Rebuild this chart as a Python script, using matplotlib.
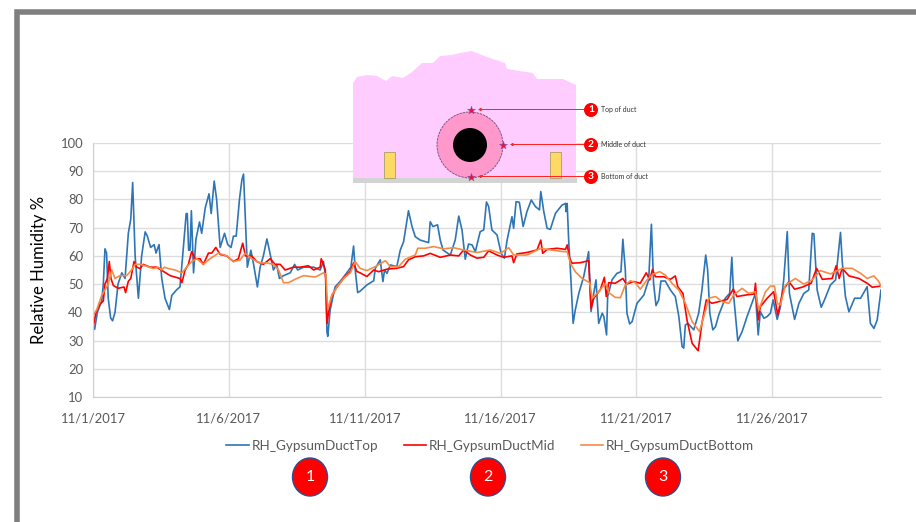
import matplotlib
matplotlib.use("Agg")
import matplotlib.pyplot as plt
from matplotlib.patches import Polygon, Rectangle, Circle, Ellipse

top_days = [0.01,0.06,0.16,0.32,0.38,0.44,0.50,0.56,0.65,0.72,0.81,0.92,1.06,1.18,1.30,1.39,1.46,1.55,1.67,1.79,1.92,2.0,2.12,2.25,2.32,2.43,2.53,2.65,2.81,2.90,3.08,3.20,3.30,3.43,3.47,3.52,3.57,3.62,3.70,3.79,3.92,4.0,4.13,4.27,4.35,4.46,4.55,4.68,4.84,4.96,5.08,5.17,5.27,5.39,5.48,5.54,5.62,5.68,5.81,5.91,6.05,6.15,6.27,6.40,6.49,6.64,6.76,6.86,7.01,7.26,7.42,7.53,7.75,8.12,8.36,8.48,8.57,8.61,8.64,8.73,8.91,9.10,9.34,9.49,9.59,9.65,9.74,9.83,10.08,10.33,10.39,10.57,10.67,10.73,10.82,10.94,11.18,11.31,11.43,11.61,11.74,11.86,12.04,12.35,12.41,12.51,12.68,12.78,12.88,13.15,13.33,13.46,13.58,13.70,13.82,13.95,14.07,14.25,14.38,14.48,14.56,14.68,14.87,15.02,15.14,15.24,15.42,15.48,15.57,15.69,15.83,15.97,16.13,16.28,16.43,16.48,16.59,16.71,16.83,17.02,17.26,17.39,17.41,17.45,17.51,17.57,17.67,17.75,17.88,18.06,18.24,18.33,18.43,18.51,18.61,18.74,18.80,18.90,18.94,19.10,19.28,19.43,19.50,19.59,19.65,19.75,19.84,20.02,20.27,20.45,20.55,20.63,20.72,20.82,20.90,21.06,21.25,21.43,21.56,21.68,21.74,21.80,21.89,22.11,22.29,22.41,22.55,22.62,22.70,22.81,22.91,23.03,23.27,23.43,23.51,23.58,23.73,23.89,24.07,24.38,24.48,24.56,24.69,24.81,24.93,25.03,25.18,25.30,25.42,25.55,25.63,25.82,25.98,26.16,26.34,26.47,26.53,26.65,26.80,26.92,27.14,27.33,27.51,27.57,27.69,27.82,28.03,28.25,28.49,28.61,28.74,28.86,29.0]
top_rh = [35,34,40,44,50,62.5,61,45,38,37,40,50,54,52,68,73,86,60,45,60,68.5,67,63,64,61,64,52,45,41,46,48,49,60,75,75,62,62,76,54,66,72,68,77,82,75,86.5,80,63,68,64,63,67,67,80,87,89,70,56,62,57,49,56,60,66,62,55,57,52,53,54,57,55,56,56,55,58,52,33,31.5,41,49,51,54,56,63.5,55,47,47.5,49.7,51.2,55.6,58.6,50.9,55.0,53.8,56.8,56.2,62.1,65.0,76,70.4,66.8,65.6,64.7,72.1,70.4,71,65.6,62.1,60.3,65.6,74.1,69.2,58.8,64.2,63.9,61.5,68.6,69.2,79.1,77.5,69.2,67.4,60.9,59.2,65.6,73.9,69.8,79.2,79,70.4,75.7,79.8,77.5,76.3,82.8,75.7,69.8,69.4,75.1,78,78.6,75.7,78.6,64.5,55,36.1,40.9,46.8,52.7,61.5,40.3,46.8,51.5,36.1,39.7,38.5,32,45.6,51.5,53.8,54.4,65.9,55,39.7,35.9,36.7,43.2,46.1,51.5,71.2,50.3,42.4,44.4,51.1,51.1,47.9,45.6,38.5,27.9,27.3,35.5,36.1,33.8,39.7,47.9,60.3,55,39.7,33.8,34.9,39.1,45,46.7,59.5,45.6,29.9,33.2,38.5,46.7,32,40.2,37.9,38.5,39.7,44.4,37.5,42,51.5,68.6,46.7,37.5,43.2,46.7,47.9,68,67.8,47.9,41.8,44.4,49.7,51.5,68.3,58.5,45.6,40.2,45,45,49.1,36.1,34.3,37.3,47.9]

mid_days = [0.01,0.11,0.26,0.38,0.44,0.53,0.60,0.66,0.75,0.93,1.14,1.20,1.30,1.39,1.51,1.61,1.73,1.85,2.10,2.34,2.59,2.84,3.20,3.27,3.39,3.51,3.63,3.76,3.94,4.06,4.25,4.37,4.52,4.68,4.92,5.17,5.35,5.51,5.61,5.84,6.03,6.27,6.52,6.70,6.89,7.07,7.38,7.62,7.93,8.12,8.36,8.40,8.55,8.61,8.67,8.79,8.98,9.22,9.47,9.59,9.71,9.83,10.08,10.33,10.51,10.82,11.18,11.43,11.61,11.86,12.17,12.41,12.78,13.15,13.46,13.64,13.89,14.13,14.38,14.56,14.87,15.11,15.42,15.48,15.60,15.97,16.34,16.48,16.55,16.71,17.08,17.39,17.45,17.54,17.63,17.94,18.24,18.33,18.43,18.67,18.82,18.89,18.98,19.22,19.50,19.63,19.90,20.14,20.36,20.49,20.59,20.70,21.0,21.25,21.43,21.52,21.71,21.86,22.05,22.27,22.41,22.57,22.78,23.03,23.34,23.56,23.70,24.07,24.34,24.38,24.48,24.56,24.81,25.05,25.20,25.40,25.61,25.82,26.10,26.43,26.63,26.84,27.20,27.35,27.46,27.57,27.82,28.19,28.49,28.68,29.0]
mid_rh = [35,40,43,44,50,52,58,52,49.5,48.5,49,47,51,52,58,56,55.5,57,56,56,54.5,53,52,50.5,55,57,61.5,59,59,57,61,61,63,60.5,60,58,59,64.5,60,60,58,57,59,57,57,55,56,56,56.5,55,56,59,55,36,40,46,49,52,54.5,57.5,54.5,54,52.7,55,54.4,55.3,55.6,56.2,58.6,59.7,60,60.9,59.5,60.3,60,62.1,60.3,59.2,59.5,61.8,60.3,59.5,60,57.6,60.7,61.2,62.1,65.6,60.9,62.3,62.7,62.3,63.9,59.2,57.4,57.6,58.3,41.4,45,48,52.4,45.6,50.5,50.3,52,50,50.9,50.3,54,51.5,55.2,52.6,52.6,51.7,52.9,49.1,46.7,37.3,29,26.4,36.1,44.4,43.2,43.8,44.6,48.2,45.6,46.2,46.5,50.3,37.3,42,45,47.3,39.1,47.9,50.9,48.2,48.9,50.3,55.6,51.7,52,56.5,52,55.6,52.9,52,50.3,48.9,49.3]

bottom_days = [0.01,0.14,0.32,0.44,0.56,0.69,0.81,0.99,1.24,1.42,1.55,1.73,1.92,2.22,2.41,2.53,2.62,2.77,3.02,3.27,3.45,3.63,3.82,4.06,4.31,4.62,4.92,5.17,5.41,5.60,5.84,6.15,6.40,6.64,6.83,7.01,7.19,7.50,7.75,8.18,8.48,8.57,8.64,8.79,8.98,9.22,9.47,9.65,9.83,10.08,10.39,10.76,10.94,11.25,11.49,11.86,11.95,12.23,12.54,12.90,13.27,13.64,14.13,14.62,15.0,15.30,15.48,15.97,16.48,16.71,17.32,17.45,17.57,17.75,18.0,18.28,18.37,18.61,18.86,18.98,19.22,19.41,19.59,19.78,19.96,20.14,20.39,20.63,20.86,21.06,21.31,21.56,21.80,22.05,22.32,22.48,22.66,22.91,23.15,23.40,23.58,23.89,24.13,24.38,24.50,24.75,24.93,25.08,25.18,25.30,25.48,25.85,26.16,26.47,26.77,27.14,27.57,27.94,28.25,28.49,28.74,28.92,29.0]
bottom_rh = [39,41,46,48,50,55,52,53,53,55,57,57,56.5,55.5,56,55,56,55.5,55,54,56,58,59,57,59,61,60,58,58.5,61,59,57.5,57.5,57,55,50.5,50.5,52,53,52.5,54,53.5,41,46,49,52,54,58,55.6,54.8,56.2,58.3,56.2,56.2,58.8,60.3,62.7,62.7,63.3,62.5,62.9,62.1,61.2,62.1,60.9,62.9,60.3,60.3,62.7,62.3,61.5,61.5,57.4,54.4,52,50.5,45,47.3,50.3,47,45.3,45.2,49.7,51.2,50.5,48.2,51.5,53.6,54.4,53.2,50.3,47.9,43.2,36.7,33.2,38.5,45,45.6,43.8,43.2,46.2,48.5,46.7,47.3,40.8,47.3,49.3,49.3,43.2,42.6,49.7,52,50,51.5,54.8,53.6,55.6,55.6,53.8,52,52.9,50.9,49.1]

tick_days = [0, 5, 10, 15, 20, 25]
tick_labels = ["11/1/2017", "11/6/2017", "11/11/2017", "11/16/2017", "11/21/2017", "11/26/2017"]
y_ticks = [10, 20, 30, 40, 50, 60, 70, 80, 90, 100]
series_names = ["RH_GypsumDuctTop", "RH_GypsumDuctMid", "RH_GypsumDuctBottom"]
series_colors = ["#2E75B6", "#FF0000", "#F58B45"]

insulation_x = [353,357,367,377,386,392,403,412,422,433,440,452,460,472,487,505,507,533,537,563,576,576,353]
insulation_y = [83,77,75,76,81,76,78,72,63,63,56,55,53,51,57,63,69,73,79,79,85,178,178]
star_x = [471, 503, 471]
star_y = [110, 145, 177]
callout_text = ["Top of duct", "Middle of duct", "Bottom of duct"]
badge_text = ["1", "2", "3"]
badge_x = [310, 488, 663]

W, H = 916, 522
plt.rcParams["font.family"] = ["Lato", "DejaVu Sans"]
fig = plt.figure(figsize=(W / 100, H / 100), dpi=100, facecolor="white")

L, R, T, B = 93, 881, 143, 397
ax = fig.add_axes([L / W, 1 - B / H, (R - L) / W, (B - T) / H])
for d, v, n, c in zip([top_days, mid_days, bottom_days], [top_rh, mid_rh, bottom_rh], series_names, series_colors):
    ax.plot(d, v, color=c, lw=1.2, label=n, solid_joinstyle="round")
ax.set_xlim(0, 29)
ax.set_ylim(10, 100)
ax.set_xticks(tick_days, tick_labels)
ax.set_yticks(y_ticks)
ax.grid(True, color="#DDDDDD", lw=1)
ax.set_axisbelow(True)
ax.tick_params(length=0, labelsize=9.4, labelcolor="#595959", pad=7)
ax.tick_params(axis="x", pad=11)
for s in ["top", "right"]:
    ax.spines[s].set_visible(False)
for s in ["left", "bottom"]:
    ax.spines[s].set_color("#CFCFCF")
ax.set_ylabel("Relative Humidity %", fontsize=12, color="black")
ax.yaxis.set_label_coords((47 - L) / (R - L), 0.5)
ax.legend(loc="center", bbox_to_anchor=((490 - L) / (R - L), (B - 445.5) / (B - T)), ncol=3, frameon=False,
          fontsize=9.7, handlelength=1.7, handletextpad=0.15, columnspacing=1.9, borderpad=0, labelcolor="#595959")

ov = fig.add_axes([0, 0, 1, 1], facecolor="none", zorder=5)
ov.set_xlim(0, W)
ov.set_ylim(H, 0)
ov.axis("off")

# outer frame, running off the right and bottom of the picture
ov.plot([17.2, 17.2, W + 5], [H + 5, 12, 12], color="#7F7F7F", lw=4, solid_joinstyle="miter", clip_on=False)

# duct schematic
ov.add_patch(Polygon(list(zip(insulation_x, insulation_y)), closed=True, fc="#FFCCFF", ec="none", zorder=1))
ov.add_patch(Rectangle((353, 178), 224, 5, fc="#D3D3D3", ec="none", zorder=2))
for x0 in (384, 550):
    ov.add_patch(Rectangle((x0, 152), 11, 26, fc="#FFD966", ec="#A8A060", lw=0.6, zorder=2))
ov.add_patch(Circle((470, 145), 33, fc="#FF99CC", ec="#6E4A78", lw=0.6, ls=(0, (3, 1)), zorder=3))
ov.add_patch(Circle((470, 145), 17, fc="black", ec="none", zorder=4))
ov.scatter(star_x, star_y, marker="*", s=38, c="#F01030", edgecolors="#6A5ACD", linewidths=0.3, zorder=6)
for i, (sx, sy) in enumerate(zip(star_x, star_y)):
    ov.annotate("", xy=(sx + 7, sy - 0.5), xytext=(584, sy - 0.5), zorder=6,
                arrowprops=dict(arrowstyle="-|>,head_length=0.15,head_width=0.08", color="#FF2020", lw=0.7, shrinkA=0, shrinkB=0))
    ov.add_patch(Circle((591, sy), 7, fc="#FF0000", ec="none", zorder=7))
    ov.text(591, sy - 0.3, badge_text[i], color="white", fontsize=7.5, fontweight="bold", ha="center", va="center", zorder=8)
    ov.text(601, sy - 0.5, callout_text[i], color="#333333", fontsize=5, ha="left", va="center", zorder=8)

# numbered badges under the legend
for bx, t in zip(badge_x, badge_text):
    ov.add_patch(Ellipse((bx, 477), 35, 38, fc="#FF0000", ec="#2F4F8F", lw=1, zorder=7))
    ov.text(bx, 477, t, color="white", fontsize=11.5, ha="center", va="center", zorder=8)

fig.savefig("out.png", dpi=100)
